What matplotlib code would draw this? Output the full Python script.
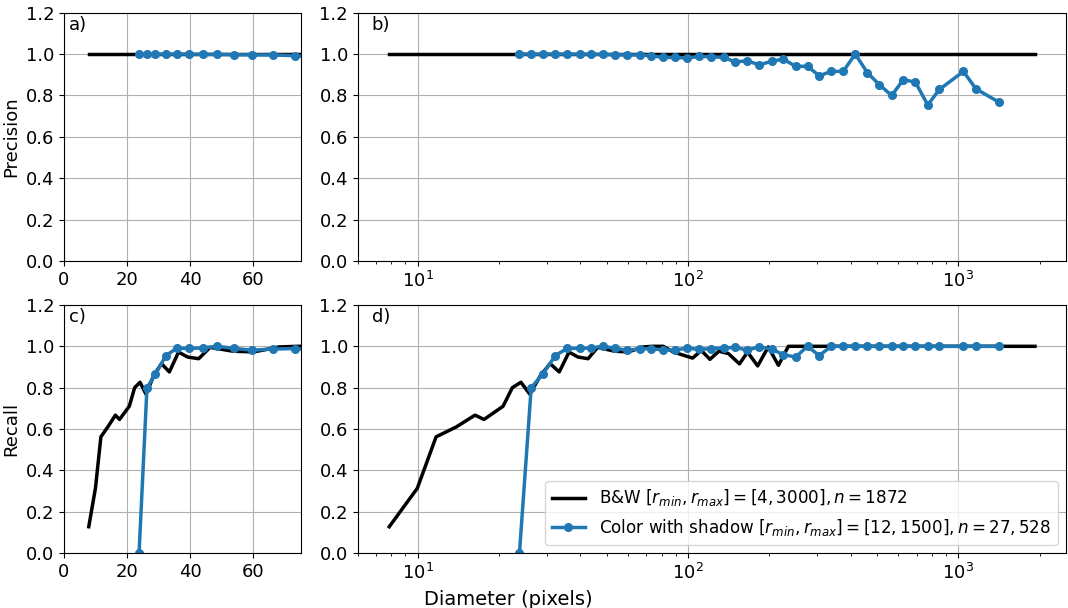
import matplotlib
matplotlib.use('Agg')
import matplotlib.pyplot as plt

plt.rcParams.update({
    'font.family': 'DejaVu Sans',
    'font.size': 13,
})

# B&W detector (black, no markers)
bw_prec_diam = [7.85, 1920]
bw_prec = [1.0, 1.0]

bw_rec_diam = [7.85, 9.97, 11.7, 13.9, 16.3, 17.6, 20.7, 22.4, 24.1, 26.0,
               28.5, 30.9, 33.4, 36.3, 39.2, 42.7, 46.3, 53.6, 60.2, 68.2,
               74.0, 81.0, 88.0, 94.5, 104, 112, 120.5, 130, 141, 155,
               166, 181, 198, 216, 235, 1920]
bw_rec = [0.127, 0.313, 0.562, 0.61, 0.667, 0.646, 0.71, 0.80, 0.826, 0.768,
          0.86, 0.916, 0.876, 0.972, 0.948, 0.94, 0.995, 0.976, 0.973, 0.997,
          1.0, 1.0, 0.973, 0.96, 0.943, 0.98, 0.937, 0.976, 0.965, 0.915,
          0.972, 0.905, 0.997, 0.908, 1.0, 1.0]

# Color with shadow detector (blue, markers)
col_diam = [23.8, 26.3, 29.0, 32.3, 35.7, 39.7, 43.9, 48.6, 53.8, 59.7,
            66.2, 73.2, 80.8, 89.8, 99.5, 109.8, 122.1, 135.3, 149.8, 165.6,
            183.2, 203.6, 224.8, 249.9, 276.8, 305.7, 338.5, 375.2, 415.5, 460.2,
            509.7, 566.6, 625.4, 693.0, 770.6, 850.4, 1044, 1161, 1416]
col_prec = [1.0, 1.0, 1.0, 1.0, 1.0, 1.0, 0.999, 0.999, 0.997, 0.996,
            0.996, 0.992, 0.984, 0.984, 0.981, 0.989, 0.987, 0.984, 0.962, 0.968,
            0.948, 0.965, 0.976, 0.941, 0.941, 0.895, 0.916, 0.917, 1.0, 0.911,
            0.852, 0.80, 0.876, 0.865, 0.754, 0.829, 0.916, 0.832, 0.767]
col_rec = [0.0, 0.80, 0.865, 0.955, 0.99, 0.99, 0.992, 1.0, 0.99, 0.981,
           0.987, 0.989, 0.982, 0.982, 0.992, 0.985, 0.989, 0.992, 0.995, 0.981,
           0.998, 0.987, 0.96, 0.948, 1.0, 0.955, 1.0, 1.0, 1.0, 1.0,
           1.0, 1.0, 1.0, 1.0, 1.0, 1.0, 1.0, 1.0, 1.0]

bw_label = r'B&W $[r_{min}, r_{max}] = [4, 3000], n = 1872$'
col_label = r'Color with shadow $[r_{min}, r_{max}] = [12, 1500], n = 27,528$'

fig = plt.figure(figsize=(10.68, 6.08), dpi=100)
ax_a = fig.add_axes([0.0599, 0.5707, 0.2216, 0.4084])
ax_b = fig.add_axes([0.3349, 0.5707, 0.6632, 0.4084])
ax_c = fig.add_axes([0.0599, 0.0905, 0.2216, 0.4079])
ax_d = fig.add_axes([0.3349, 0.0905, 0.6632, 0.4079])

blue = '#1f77b4'
for ax, bx, by, cy, tag in [(ax_a, bw_prec_diam, bw_prec, col_prec, 'a)'),
                            (ax_b, bw_prec_diam, bw_prec, col_prec, 'b)'),
                            (ax_c, bw_rec_diam, bw_rec, col_rec, 'c)'),
                            (ax_d, bw_rec_diam, bw_rec, col_rec, 'd)')]:
    ax.plot(bx, by, color='black', lw=2.5, label=bw_label)
    ax.plot(col_diam, cy, color=blue, lw=2.5, marker='o', ms=5.5, label=col_label)
    ax.set_ylim(0, 1.2)
    ax.set_yticks([0.0, 0.2, 0.4, 0.6, 0.8, 1.0, 1.2])
    ax.grid(True)
    ax.text(0.02, 0.95, tag, transform=ax.transAxes, ha='left', va='center', fontsize=13)

for ax in (ax_a, ax_c):
    ax.set_xlim(0, 75)
    ax.set_xticks([0, 20, 40, 60])
for ax in (ax_b, ax_d):
    ax.set_xscale('log')
    ax.set_xlim(6, 2500)

ax_a.set_ylabel('Precision')
ax_c.set_ylabel('Recall')
fig.text(0.476, 1 - 590 / 608, 'Diameter (pixels)', ha='center', va='top', fontsize=14)

ax_d.legend(loc='lower right', fontsize=12.1)

fig.savefig('out.png', dpi=100)
